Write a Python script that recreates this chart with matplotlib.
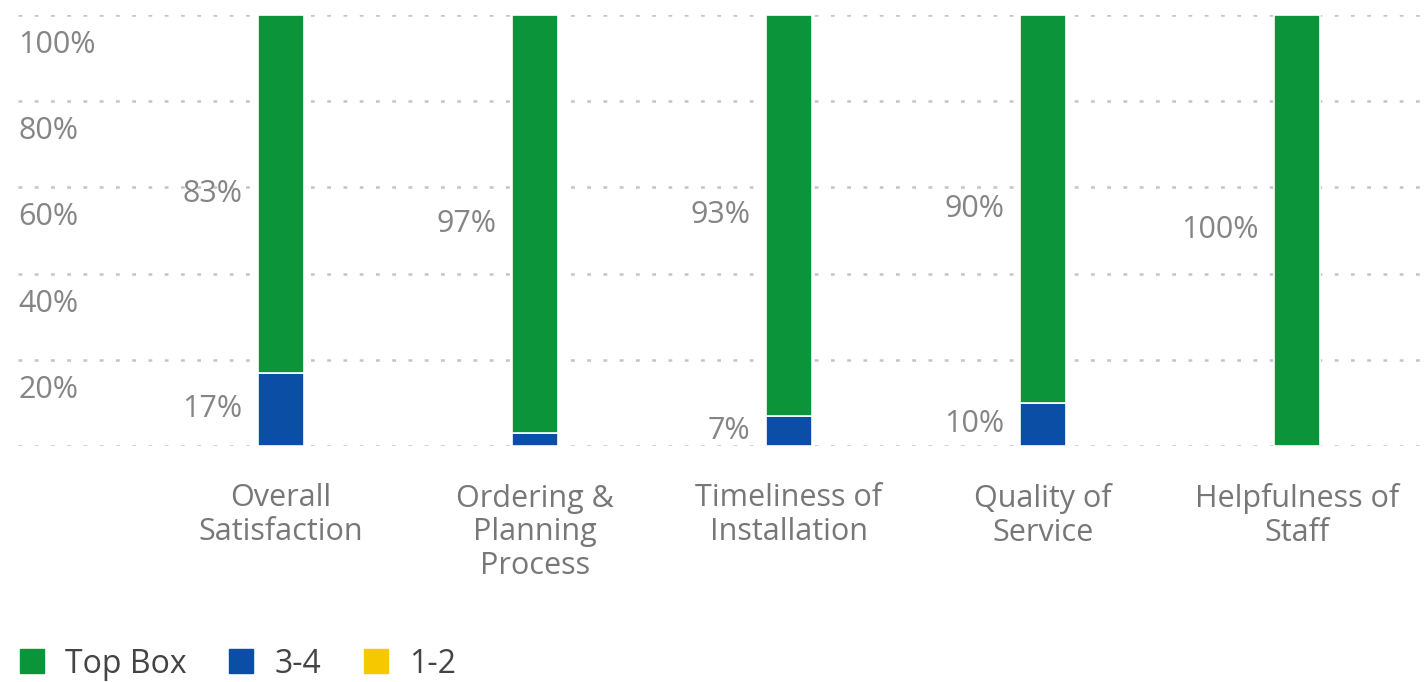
import matplotlib
matplotlib.use("Agg")
import matplotlib.pyplot as plt
from matplotlib.lines import Line2D
import matplotlib.transforms as mtransforms

categories = ["Overall\nSatisfaction", "Ordering &\nPlanning\nProcess", "Timeliness of\nInstallation",
              "Quality of\nService", "Helpfulness of\nStaff"]
top_box = [83, 97, 93, 90, 100]
mid_34 = [17, 3, 7, 10, 0]
low_12 = [0, 0, 0, 0, 0]
series_names = ["Top Box", "3-4", "1-2"]
y_ticks = [0, 20, 40, 60, 80, 100]

GREEN = "#0b9439"
BLUE = "#0a4ea5"
YELLOW = "#f6c800"
GREY = "#858585"

plt.rcParams['font.family'] = ['Open Sans', 'DejaVu Sans']

fig = plt.figure(figsize=(14.28, 6.82), dpi=100)
W, H = 1428, 682
ax = fig.add_axes([18 / W, (H - 446) / H, 1 - 18 / W, (446 - 15) / H])

x = list(range(len(categories)))
width = 0.181

ax.bar(x, low_12, width, color=YELLOW, edgecolor="white", linewidth=1.2, zorder=3)
ax.bar(x, mid_34, width, bottom=low_12, color=BLUE, edgecolor="white", linewidth=1.2, zorder=3)
bottoms = [a + b for a, b in zip(low_12, mid_34)]
ax.bar(x, top_box, width, bottom=bottoms, color=GREEN, edgecolor="white", linewidth=1.2, zorder=3)

ax.set_xlim(-1.035, 4.516)
ax.set_ylim(0, 100)

# data labels
for i in x:
    for val, base in ((mid_34[i], low_12[i]), (top_box[i], bottoms[i])):
        if val >= 5:
            ax.annotate(f"{val}%", xy=(i - width / 2, base + val / 2), xytext=(-11, 0),
                        textcoords="offset points", ha="right", va="center",
                        fontsize=22, color=GREY, zorder=4)

# grid
ax.set_yticks(y_ticks)
ax.yaxis.grid(True, linestyle=(0, (1.5, 5)), color="#c4c4c4", linewidth=1.8, zorder=0)
ax.tick_params(axis="y", length=0, labelleft=False)
for s in ax.spines.values():
    s.set_visible(False)

# y labels below the gridlines
offset = mtransforms.ScaledTranslation(0, -30 / 100, fig.dpi_scale_trans)
trans = mtransforms.blended_transform_factory(ax.transAxes, ax.transData) + offset
for t in y_ticks[1:]:
    ax.text(0.0, t, f"{t}%", transform=trans, ha="left", va="center",
            fontsize=22, color=GREY, clip_on=False)

ax.set_xticks(x)
ax.set_xticklabels(categories, fontsize=22, color="#777777", linespacing=1.17)
ax.tick_params(axis="x", length=0, pad=27)

handles = [Line2D([0], [0], marker="s", linestyle="none", markersize=17, color=c)
           for c in (GREEN, BLUE, YELLOW)]
fig.legend(handles, series_names, loc="lower left", bbox_to_anchor=(-0.009, -0.04), ncol=3,
           frameon=False, fontsize=23, labelcolor="#444444", handletextpad=0.55,
           columnspacing=1.2, handlelength=1.0)

fig.savefig("out.png", dpi=100, facecolor="white")
